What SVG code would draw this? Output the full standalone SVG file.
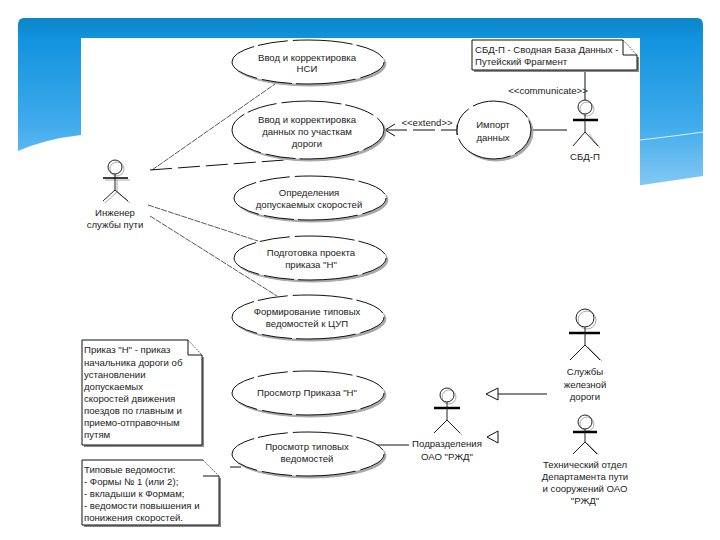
<svg xmlns="http://www.w3.org/2000/svg" width="720" height="540" viewBox="0 0 720 540">
<defs>
<linearGradient id="blue" x1="0" y1="0" x2="0" y2="1"><stop offset="0" stop-color="#0b86c8"/><stop offset="0.12" stop-color="#1293de"/><stop offset="0.6" stop-color="#3fabec"/><stop offset="1" stop-color="#8fcdf4"/></linearGradient>
</defs>
<style>
text{font-family:"Liberation Sans",Arial,sans-serif;font-size:9.6px;fill:#222;text-anchor:middle}
.l{text-anchor:start}
.uc{fill:#fff;stroke:#111;stroke-width:1;stroke-dasharray:30 5 60 4}
.us{fill:#a8a8a8;stroke:#a8a8a8;stroke-width:1}
.c{fill:none;stroke:#111;stroke-width:1}
.d{fill:none;stroke:#111;stroke-width:1;stroke-dasharray:22 6}
.th{fill:none;stroke:#111;stroke-width:.7;stroke-dasharray:6 1}
.n{fill:#fff;stroke:#111;stroke-width:1}
.f{fill:none;stroke:#333;stroke-width:.7;stroke-dasharray:2 1}
.ns{fill:#8a8a8a}
.a{fill:none;stroke:#222;stroke-width:1}
.as{fill:none;stroke:#aaa;stroke-width:1}
.ar{fill:none;stroke:#000;stroke-width:2.5}
</style>
<rect width="720" height="540" fill="#fff"/>
<g id="background">
<path d="M24 18H697Q703 18 703 25V176Q650 184 600 191L565 195H81V135Q45 139 18 151V25Q18 18 24 18Z" fill="url(#blue)"/>
<path d="M640 140Q675 136 703 132" fill="none" stroke="#d8f0fb" stroke-width="1"/>
<rect x="81" y="38" width="559" height="157" fill="#fff"/>
</g>
<g id="connectors">
<path class="th" d="M152 170L275 84"/>
<path class="d" d="M150 170L285 160"/>
<path class="th" d="M148 205L258 241"/>
<path class="th" d="M150 216L277 296"/>
<path class="d" d="M385 130H457"/>
<path class="c" d="M395 124L385 130L395 136M457 125V135"/>
<path class="c" d="M531 130H567"/>
<path class="c" d="M585 70V100"/>
<path class="c" d="M498 394H547"/>
<path class="c" d="M498 388L486 394L498 400Z"/>
<path class="c" d="M498 431L487 437L498 443Z"/>
<path class="c" d="M377 445H409"/>
<path class="c" d="M230 467H241"/>
</g>
<g id="uc1"><ellipse class="us" cx="310" cy="64" rx="76" ry="22"/><ellipse class="uc" cx="308" cy="62" rx="76" ry="22"/><text x="307" y="61">Ввод и корректировка</text><text x="307" y="72">НСИ</text></g>
<g id="uc2"><ellipse class="us" cx="310" cy="132" rx="76" ry="29"/><ellipse class="uc" cx="308" cy="130" rx="76" ry="29"/><text x="307" y="123">Ввод и корректировка</text><text x="307" y="135">данных по участкам</text><text x="307" y="147">дороги</text></g>
<g id="uc3"><ellipse class="us" cx="312" cy="200" rx="76" ry="22"/><ellipse class="uc" cx="310" cy="198" rx="76" ry="22"/><text x="309" y="196">Определения</text><text x="309" y="208">допускаемых скоростей</text></g>
<g id="uc4"><ellipse class="us" cx="312" cy="260" rx="76" ry="22"/><ellipse class="uc" cx="310" cy="258" rx="76" ry="22"/><text x="311" y="256">Подготовка проекта</text><text x="311" y="268">приказа "Н"</text></g>
<g id="uc5"><ellipse class="us" cx="310" cy="319" rx="76" ry="22"/><ellipse class="uc" cx="308" cy="317" rx="76" ry="22"/><text x="307" y="315">Формирование типовых</text><text x="307" y="327">ведомостей к ЦУП</text></g>
<g id="uc6"><ellipse class="us" cx="310" cy="395" rx="76" ry="22"/><ellipse class="uc" cx="308" cy="393" rx="76" ry="22"/><text x="307" y="396">Просмотр Приказа "Н"</text></g>
<g id="uc7"><ellipse class="us" cx="310" cy="456" rx="76" ry="22"/><ellipse class="uc" cx="308" cy="454" rx="76" ry="22"/><text x="307" y="450">Просмотр типовых</text><text x="307" y="462">ведомостей</text></g>
<g id="uc8"><ellipse class="us" cx="496" cy="132" rx="37" ry="29"/><ellipse class="uc" cx="494" cy="130" rx="37" ry="29"/><text x="493" y="128">Импорт</text><text x="493" y="141">данных</text></g>
<g id="label-extend"><text x="427" y="126">&lt;&lt;extend&gt;&gt;</text></g>
<g id="label-communicate"><text x="548" y="94">&lt;&lt;communicate&gt;&gt;</text></g>
<g id="actor1"><path class="as" d="M117 169m7 0a7 7 0 1 0-14 0a7 7 0 1 0 14 0M105 180H130M117 180V192L105 203M117 192L130 203"/><circle class="a" cx="115" cy="167" r="7"/><path class="a" d="M115 174V190L103 201M115 190L128 201"/><path class="ar" style="stroke-width:1.5" d="M103 178H128"/><text x="115" y="216">Инженер</text><text x="115" y="228">службы пути</text></g>
<g id="actor2"><path class="as" d="M587 109m7 0a7 7 0 1 0-14 0a7 7 0 1 0 14 0M589 134L600 148"/><circle class="a" cx="585" cy="107" r="7"/><path class="ar" d="M573 120H598"/><path class="a" d="M585 114V132L573 146M585 132L598 146"/><text x="585" y="160">СБД-П</text></g>
<g id="actor3"><path class="as" d="M587 320m9 0a9 9 0 1 0-18 0a9 9 0 1 0 18 0M588 347L602 361"/><circle class="a" cx="585" cy="318" r="9"/><path class="ar" d="M569 333H600"/><path class="a" d="M585 327V345L570 360M585 345L600 360"/><text x="585" y="375">Службы</text><text x="585" y="388">железной</text><text x="585" y="400">дороги</text></g>
<g id="actor4"><path class="as" d="M587 424m7 0a7 7 0 1 0-14 0a7 7 0 1 0 14 0M587 443L599 455"/><circle class="a" cx="585" cy="422" r="7"/><path class="ar" d="M573 432H597"/><path class="a" d="M585 429V442L573 454M585 442L597 454"/><text x="585" y="468">Технический отдел</text><text x="585" y="480">Департамента пути</text><text x="585" y="492">и сооружений ОАО</text><text x="585" y="504">"РЖД"</text></g>
<g id="actor5"><path class="as" d="M449 397m7 0a7 7 0 1 0-14 0a7 7 0 1 0 14 0M449 422L462 435"/><circle class="a" cx="447" cy="395" r="7"/><path class="ar" d="M434 408H460"/><path class="a" d="M447 402V420L434 433M447 420L460 433"/><text x="447" y="447">Подразделения</text><text x="447" y="460">ОАО "РЖД"</text></g>
<g id="note1"><path class="ns" d="M474 57H639V72H474Z"/><path d="M472 40H623L637 55V70H472Z" fill="#fff"/><path class="c" d="M637 55V70H472V40H623V55H637"/><path class="f" d="M623 40L637 55"/><text class="l" x="475" y="53">СБД-П - Сводная База Данных -</text><text class="l" x="475" y="65">Путейский Фрагмент</text></g>
<g id="note2"><path class="ns" d="M84 357H204V447H84Z"/><path d="M82 340H188L202 355V445H82Z" fill="#fff"/><path class="c" d="M202 355V445H82V340H188V355H202"/><path class="f" d="M188 340L202 355"/><text class="l" x="84" y="353">Приказ "Н" - приказ</text><text class="l" x="84" y="366">начальника дороги об</text><text class="l" x="84" y="378">установлении</text><text class="l" x="84" y="390">допускаемых</text><text class="l" x="84" y="402">скоростей движения</text><text class="l" x="84" y="414">поездов по главным и</text><text class="l" x="84" y="426">приемо-отправочным</text><text class="l" x="84" y="438">путям</text></g>
<g id="note3"><path class="ns" d="M84 478H221V527H84Z"/><path d="M82 460H203L219 476V525H82Z" fill="#fff"/><path class="c" d="M219 476V525H82V460H203"/><path class="c" d="M203 476H219"/><path class="f" d="M203 460L219 476"/><text class="l" x="84" y="473">Типовые ведомости:</text><text class="l" x="84" y="485">- Формы № 1 (или 2);</text><text class="l" x="84" y="497">- вкладыши к Формам;</text><text class="l" x="84" y="509">- ведомости повышения и</text><text class="l" x="84" y="521">понижения скоростей.</text></g>
</svg>
